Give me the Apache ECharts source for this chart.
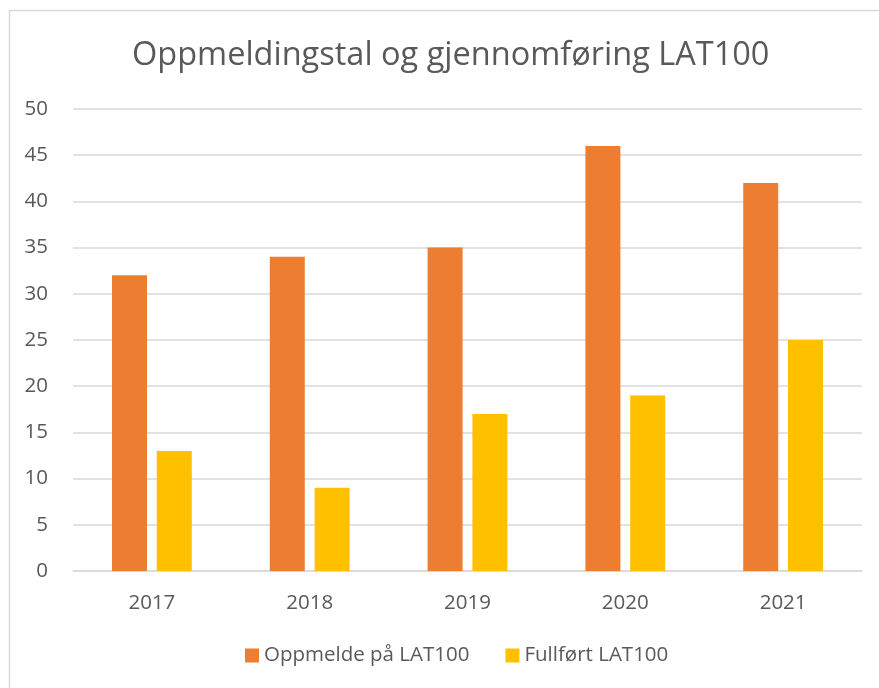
<!DOCTYPE html>
<html lang="nn">
<head>
  <meta charset="UTF-8">
  <title>Oppmeldingstal og gjennomføring LAT100</title>
  <script src="https://cdn.jsdelivr.net/npm/echarts@6/dist/echarts.min.js"></script>
  <style>
    html, body, #main {
      margin: 0;
      padding: 0;
      width: 879px;
      height: 688px;
      background: #fff;
    }
  </style>
</head>
<body>
  <div id="main"></div>

  <script>
    const years = ['2017', '2018', '2019', '2020', '2021'];
    const oppmelde = [32, 34, 35, 46, 42];
    const fullfort = [13, 9, 17, 19, 25];

    const textColor = '#595959';
    const font = '"Open Sans", "Liberation Sans", sans-serif';

    const chart = echarts.init(document.getElementById('main'), null, { renderer: 'canvas' });
    chart.setOption({
      animation: false,
      backgroundColor: '#fff',
      textStyle: { fontFamily: font },
      graphic: [{
        type: 'rect',
        shape: { x: 9.5, y: 10.5, width: 900, height: 700 },
        style: { fill: 'none', stroke: '#d9d9d9', lineWidth: 1.5 },
        silent: true
      }],
      title: {
        text: 'Oppmeldingstal og gjennomføring LAT100',
        left: 127,
        top: 34,
        textStyle: { color: textColor, fontSize: 32.5, fontWeight: 'normal', fontFamily: font }
      },
      legend: {
        bottom: 17,
        left: 240,
        itemWidth: 14,
        itemHeight: 14,
        itemGap: 36,
        icon: 'rect',
        textStyle: { color: textColor, fontSize: 20.5, fontFamily: font }
      },
      grid: { left: 73, right: 17, top: 109, bottom: 117, containLabel: false },
      xAxis: {
        type: 'category',
        data: years,
        axisLine: { lineStyle: { color: '#d9d9d9', width: 1.5 } },
        axisTick: { show: false },
        axisLabel: { color: textColor, fontSize: 20.5, margin: 22, fontFamily: font }
      },
      yAxis: {
        type: 'value',
        min: 0,
        max: 50,
        interval: 5,
        axisLine: { show: false },
        axisTick: { show: false },
        splitLine: { lineStyle: { color: '#d9d9d9', width: 1.5 } },
        axisLabel: { color: textColor, fontSize: 20.5, margin: 25, fontFamily: font }
      },
      series: [
        {
          name: 'Oppmelde på LAT100',
          type: 'bar',
          data: oppmelde,
          barWidth: 35,
          barGap: '28%',
          itemStyle: { color: '#ed7d31' }
        },
        {
          name: 'Fullført LAT100',
          type: 'bar',
          data: fullfort,
          barWidth: 35,
          itemStyle: { color: '#ffc000' }
        }
      ]
    });
  </script>
</body>
</html>
